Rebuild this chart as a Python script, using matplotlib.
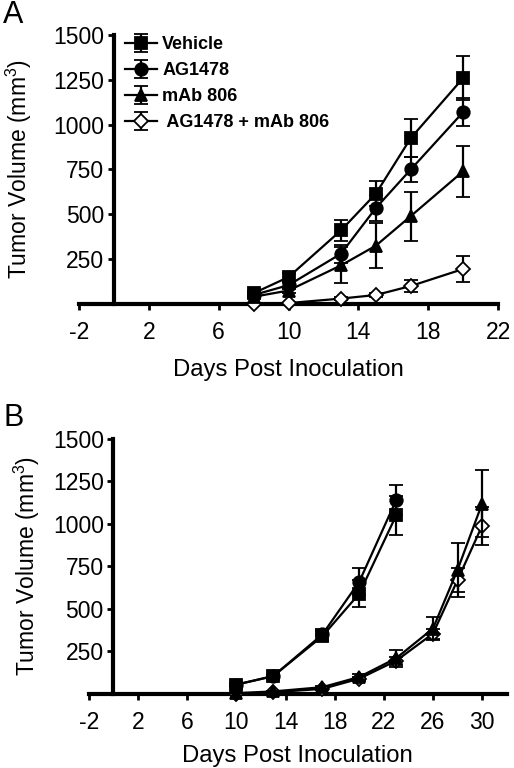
import matplotlib
matplotlib.use('Agg')
import matplotlib.pyplot as plt

plt.rcParams['font.family'] = ['Liberation Sans', 'DejaVu Sans']
plt.rcParams['mathtext.fontset'] = 'custom'
plt.rcParams['mathtext.rm'] = 'Liberation Sans'
plt.rcParams['axes.unicode_minus'] = False

labels = ['Vehicle', 'AG1478', 'mAb 806', ' AG1478 + mAb 806']
markers = ['s', 'o', '^', 'D']
faces = ['black', 'black', 'black', 'white']
msizes = [9, 9, 9, 7]

# panel A
days_a = [8, 10, 13, 15, 17, 20]
vol_a = [
    [60, 150, 410, 615, 925, 1260],
    [50, 105, 280, 535, 750, 1070],
    [40, 75, 215, 325, 490, 740],
    [0, 5, 30, 50, 100, 195],
]
err_a = [
    [10, 20, 60, 70, 105, 125],
    [10, 20, 50, 75, 72, 78],
    [8, 15, 100, 125, 137, 142],
    [2, 3, 8, 10, 35, 75],
]

# panel B
days_b = [
    [10, 13, 17, 20, 23],
    [10, 13, 17, 20, 23],
    [10, 13, 17, 20, 23, 26, 28, 30],
    [10, 13, 17, 20, 23, 26, 28, 30],
]
vol_b = [
    [55, 105, 340, 590, 1050],
    [55, 105, 350, 660, 1140],
    [5, 15, 40, 100, 210, 385, 730, 1120],
    [0, 10, 30, 90, 195, 355, 670, 990],
]
err_b = [
    [10, 15, 30, 80, 115],
    [10, 15, 30, 80, 90],
    [2, 4, 8, 15, 50, 70, 160, 196],
    [1, 3, 6, 12, 25, 30, 72, 112],
]

yticks = [250, 500, 750, 1000, 1250, 1500]

fig = plt.figure(figsize=(5.14, 7.68), dpi=100)
axA = fig.add_axes([0.1537, 0.6042, 0.969 - 0.1537, 0.9544 - 0.6042])
axB = fig.add_axes([0.173, 0.0964, 0.9858 - 0.173, 0.4284 - 0.0964])


def style(ax, xlim, xticks):
    ax.set_xlim(*xlim)
    ax.set_ylim(0, 1500)
    ax.spines['left'].set_position(('data', 0))
    for s in ['top', 'right']:
        ax.spines[s].set_visible(False)
    for s in ['left', 'bottom']:
        ax.spines[s].set_linewidth(3)
    ax.set_xticks(xticks)
    ax.set_yticks(yticks)
    ax.tick_params(axis='both', length=4, width=2, labelsize=16.5)
    ax.tick_params(axis='x', pad=8)
    ax.tick_params(axis='y', pad=3)
    ax.set_xlabel('Days Post Inoculation', fontsize=17.2, labelpad=11)


def draw(ax, xs, ys, es):
    for i in range(4):
        x = xs[i] if isinstance(xs[0], list) else xs
        ax.errorbar(x, ys[i], yerr=es[i], color='black', lw=1.6,
                    marker=markers[i], ms=msizes[i], mfc=faces[i], mec='black',
                    mew=1.3, capsize=5, capthick=1.6, elinewidth=1.6,
                    label=labels[i], clip_on=False, zorder=3 + (3 - i))


draw(axA, days_a, vol_a, err_a)
style(axA, (-2, 22), list(range(-2, 23, 4)))
axA.set_ylabel('Tumor Volume (mm$^3$)', fontsize=16.5)
axA.yaxis.set_label_coords(-0.107, 0.5)
leg = axA.legend(loc='upper left', bbox_to_anchor=(0.093, 1.022), frameon=False,
                 prop={'weight': 'bold', 'size': 13}, handlelength=1.77,
                 handletextpad=0.28, labelspacing=0.5, borderaxespad=0)

draw(axB, days_b, vol_b, err_b)
style(axB, (-2, 32), list(range(-2, 31, 4)))
axB.set_ylabel('Tumor Volume (mm$^3$)', fontsize=16.5)
axB.yaxis.set_label_coords(-0.112, 0.5)
axB.xaxis.labelpad = 8

fig.text(0.006, 0.98, 'A', fontsize=22, va='center', ha='left')
fig.text(0.006, 0.456, 'B', fontsize=22, va='center', ha='left')

fig.savefig('out.png', dpi=100)
